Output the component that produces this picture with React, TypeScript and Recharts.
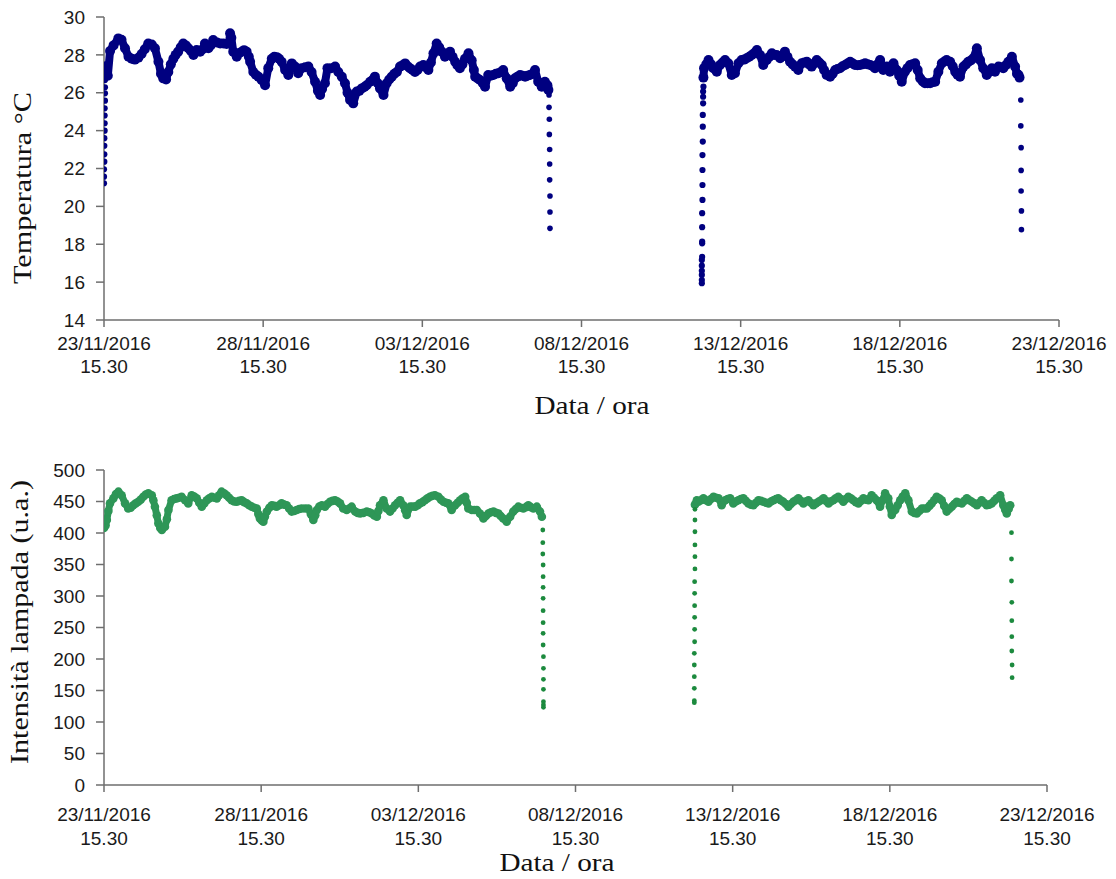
import React from "react";
import { ScatterChart, Scatter, XAxis, YAxis, Label } from "recharts";

const dateLabels = ["23/11/2016", "28/11/2016", "03/12/2016", "08/12/2016", "13/12/2016", "18/12/2016", "23/12/2016"];
const timeLabel = "15.30";
const xTicks = [0, 5, 10, 15, 20, 25, 30];
const tempTicks = [14, 16, 18, 20, 22, 24, 26, 28, 30];
const lampTicks = [0, 50, 100, 150, 200, 250, 300, 350, 400, 450, 500];

// [giorni dal 23/11 15.30, valore]
const tempRise1: [number, number][] = [
  [0.0, 21.22], [0.0, 21.57], [0.0, 21.96], [0.01, 22.36], [0.01, 22.75], [0.01, 23.2], [0.01, 23.6],
  [0.02, 24.0], [0.02, 24.39], [0.02, 24.8], [0.02, 25.18], [0.03, 25.58], [0.03, 25.97], [0.03, 26.29], [0.03, 26.67],
];
const tempBand1: [number, number][] = [
  [0.03, 26.9], [0.06, 27.4], [0.12, 26.9], [0.19, 28.2], [0.3, 28.5], [0.45, 28.87], [0.55, 28.8], [0.66, 28.35],
  [0.77, 27.9], [0.87, 27.8], [0.97, 27.75], [1.08, 27.85], [1.18, 28.05], [1.28, 28.3], [1.39, 28.6], [1.5, 28.55],
  [1.6, 28.35], [1.71, 27.64], [1.79, 27.0], [1.86, 26.76], [1.95, 26.7], [2.02, 27.1], [2.1, 27.5], [2.18, 27.8],
  [2.25, 28.0], [2.33, 28.17], [2.41, 28.4], [2.49, 28.6], [2.57, 28.5], [2.65, 28.35], [2.73, 28.2], [2.81, 28.0],
  [2.91, 28.26], [3.02, 28.17], [3.1, 28.3], [3.17, 28.6], [3.28, 28.35], [3.35, 28.5], [3.43, 28.78], [3.55, 28.65],
  [3.65, 28.6], [3.75, 28.6], [3.85, 28.58], [3.93, 28.62], [3.96, 29.14], [4.0, 28.9], [4.06, 28.17], [4.17, 27.9],
  [4.25, 28.1], [4.33, 28.17], [4.4, 28.25], [4.48, 28.17], [4.55, 27.9], [4.59, 27.64], [4.69, 27.1], [4.77, 26.95],
  [4.85, 26.85], [4.95, 26.67], [5.06, 26.4], [5.16, 27.3], [5.27, 27.8], [5.35, 27.9], [5.43, 27.88], [5.5, 27.8],
  [5.58, 27.64], [5.69, 27.2], [5.79, 26.94], [5.9, 27.55], [6.0, 27.38], [6.1, 27.03], [6.21, 27.3], [6.32, 27.35],
  [6.42, 27.38], [6.52, 27.1], [6.63, 26.58], [6.72, 26.1], [6.79, 25.88], [6.85, 26.2], [6.94, 26.5], [7.02, 27.3],
  [7.14, 27.3], [7.26, 27.38], [7.36, 27.1], [7.47, 26.85], [7.57, 26.5], [7.65, 26.0], [7.73, 25.62], [7.83, 25.44],
  [7.94, 26.06], [8.02, 26.1], [8.1, 26.23], [8.18, 26.3], [8.25, 26.4], [8.36, 26.58], [8.45, 26.7], [8.51, 26.85],
  [8.6, 26.5], [8.67, 26.23], [8.78, 25.88], [8.88, 26.5], [8.96, 26.7], [9.04, 26.85], [9.12, 27.0], [9.2, 27.1],
  [9.3, 27.38], [9.38, 27.45], [9.46, 27.55], [9.54, 27.4], [9.61, 27.3], [9.69, 27.2], [9.77, 27.1], [9.85, 27.2],
  [9.93, 27.38], [10.03, 27.47], [10.11, 27.35], [10.19, 27.2], [10.27, 27.6], [10.35, 28.08], [10.45, 28.6], [10.53, 28.4],
  [10.61, 28.17], [10.71, 27.9], [10.79, 28.0], [10.87, 28.17], [10.95, 27.9], [11.03, 27.64], [11.1, 27.45], [11.18, 27.3],
  [11.26, 27.5], [11.34, 27.8], [11.45, 28.08], [11.55, 27.72], [11.62, 27.2], [11.66, 26.85], [11.74, 26.75], [11.81, 26.67],
  [11.9, 26.5], [11.97, 26.32], [12.07, 26.94], [12.15, 26.9], [12.23, 26.94], [12.31, 27.0], [12.39, 27.03], [12.47, 27.1],
  [12.54, 27.2], [12.65, 26.76], [12.76, 26.32], [12.84, 26.5], [12.91, 26.76], [12.99, 26.85], [13.07, 26.94], [13.15, 26.9],
  [13.23, 26.85], [13.3, 26.9], [13.38, 26.94], [13.46, 27.0], [13.54, 27.2], [13.64, 26.58], [13.75, 26.32], [13.85, 26.58],
  [13.93, 26.4], [13.96, 26.15],
];
const tempDrop1: [number, number][] = [
  [13.98, 25.88], [13.98, 25.23], [13.99, 24.6], [13.99, 23.8], [14.0, 23.0], [14.0, 22.24], [14.0, 21.4],
  [14.01, 20.55], [14.01, 19.7], [14.01, 18.84],
];
const tempRise2: [number, number][] = [
  [18.78, 15.94], [18.78, 16.11], [18.78, 16.38], [18.78, 16.6], [18.78, 16.87], [18.78, 17.17], [18.79, 17.34],
  [18.79, 18.05], [18.79, 18.14], [18.79, 18.9], [18.79, 19.64], [18.8, 20.34], [18.8, 21.13], [18.8, 21.92],
  [18.8, 22.71], [18.81, 23.42], [18.81, 24.21], [18.81, 24.83], [18.82, 25.44], [18.82, 25.79], [18.82, 26.06], [18.83, 26.32],
];
const tempBand2: [number, number][] = [
  [18.83, 26.8], [18.85, 27.3], [18.92, 27.5], [18.99, 27.73], [19.07, 27.5], [19.14, 27.29], [19.25, 27.11], [19.35, 27.47],
  [19.43, 27.6], [19.51, 27.73], [19.61, 27.56], [19.72, 26.94], [19.82, 27.03], [19.93, 27.56], [20.03, 27.73], [20.11, 27.75],
  [20.19, 27.82], [20.27, 27.9], [20.35, 27.99], [20.43, 28.1], [20.51, 28.26], [20.61, 27.99], [20.71, 27.47], [20.82, 27.73],
  [20.9, 27.9], [20.98, 28.08], [21.05, 28.0], [21.13, 27.99], [21.24, 27.82], [21.32, 28.0], [21.39, 28.17], [21.47, 27.9],
  [21.55, 27.64], [21.63, 27.5], [21.71, 27.38], [21.81, 27.2], [21.92, 27.56], [22.0, 27.6], [22.08, 27.64], [22.15, 27.5],
  [22.23, 27.38], [22.31, 27.55], [22.39, 27.73], [22.47, 27.6], [22.55, 27.47], [22.62, 27.2], [22.7, 26.94], [22.81, 26.85],
  [22.89, 27.0], [22.97, 27.2], [23.04, 27.25], [23.12, 27.29], [23.2, 27.4], [23.28, 27.47], [23.36, 27.55], [23.44, 27.64],
  [23.52, 27.55], [23.59, 27.47], [23.67, 27.45], [23.75, 27.47], [23.83, 27.5], [23.91, 27.56], [23.99, 27.5], [24.07, 27.47],
  [24.15, 27.4], [24.22, 27.29], [24.3, 27.5], [24.38, 27.73], [24.48, 27.2], [24.59, 27.38], [24.69, 27.11], [24.8, 27.56],
  [24.9, 27.2], [24.98, 26.9], [25.06, 26.58], [25.16, 27.11], [25.24, 27.3], [25.32, 27.47], [25.4, 27.5], [25.48, 27.56],
  [25.56, 27.2], [25.64, 26.76], [25.72, 26.6], [25.79, 26.5], [25.87, 26.5], [25.95, 26.5], [26.03, 26.55], [26.11, 26.58],
  [26.21, 27.11], [26.32, 27.56], [26.4, 27.65], [26.47, 27.73], [26.58, 27.64], [26.66, 27.4], [26.74, 27.11], [26.81, 26.95],
  [26.89, 26.85], [27.0, 27.38], [27.08, 27.5], [27.15, 27.64], [27.23, 27.7], [27.31, 27.82], [27.42, 28.35], [27.52, 27.73],
  [27.62, 27.29], [27.73, 26.94], [27.81, 27.1], [27.89, 27.29], [27.99, 27.11], [28.1, 27.38], [28.18, 27.35], [28.25, 27.29],
  [28.33, 27.45], [28.41, 27.64], [28.52, 27.9], [28.62, 27.38], [28.68, 27.0], [28.73, 26.94], [28.76, 26.8],
];
const tempDrop2: [number, number][] = [
  [28.8, 25.62], [28.8, 24.25], [28.81, 23.1], [28.81, 21.9], [28.81, 20.81], [28.82, 19.76], [28.82, 18.77],
];

const lampBand1: [number, number][] = [
  [0.0, 408], [0.05, 412], [0.09, 420.6], [0.14, 435], [0.19, 447], [0.3, 455], [0.38, 462], [0.46, 465.6], [0.56, 460],
  [0.67, 447], [0.77, 439], [0.85, 440], [0.93, 444], [1.01, 447], [1.09, 449.7], [1.17, 453], [1.25, 457.6], [1.33, 461],
  [1.41, 463], [1.52, 460], [1.57, 452], [1.62, 441.8], [1.68, 428], [1.73, 415], [1.79, 408], [1.84, 404.8], [1.94, 410],
  [2.0, 422], [2.05, 436.5], [2.15, 452], [2.23, 454], [2.31, 455], [2.39, 456], [2.47, 457.6], [2.58, 452], [2.68, 447],
  [2.79, 460], [2.87, 458], [2.95, 455], [3.03, 448], [3.11, 441.8], [3.19, 447], [3.27, 452], [3.35, 455], [3.43, 457.6],
  [3.51, 456], [3.59, 455], [3.66, 460], [3.74, 465.6], [3.82, 463], [3.9, 460], [3.98, 456], [4.06, 452], [4.14, 450],
  [4.22, 449.7], [4.3, 451], [4.38, 452], [4.46, 449], [4.54, 447], [4.62, 444], [4.7, 441.8], [4.78, 440], [4.86, 439],
  [4.91, 430], [4.96, 423], [5.02, 420], [5.07, 418], [5.12, 426], [5.18, 434], [5.26, 440], [5.34, 444], [5.42, 443],
  [5.49, 441.8], [5.57, 444], [5.65, 447], [5.73, 445], [5.81, 444], [5.89, 439], [5.97, 434], [6.05, 435], [6.13, 436.5],
  [6.21, 438], [6.29, 439], [6.4, 439], [6.5, 439], [6.58, 430], [6.66, 420.6], [6.72, 428], [6.77, 436.5], [6.85, 442],
  [6.93, 444], [7.03, 441.8], [7.11, 446], [7.19, 449.7], [7.27, 451], [7.35, 452], [7.43, 450], [7.51, 447], [7.61, 439],
  [7.72, 436.5], [7.8, 439], [7.88, 441.8], [7.99, 434], [8.07, 432], [8.15, 431.2], [8.25, 432], [8.36, 434], [8.44, 433],
  [8.52, 431], [8.6, 428], [8.68, 425.9], [8.73, 435], [8.78, 444], [8.89, 452], [8.99, 439], [9.1, 434], [9.18, 439],
  [9.26, 444], [9.34, 448], [9.42, 452], [9.52, 444], [9.58, 436], [9.63, 428.6], [9.74, 441.8], [9.82, 442], [9.9, 441.8],
  [9.98, 444], [10.05, 447], [10.13, 449], [10.21, 452], [10.29, 455], [10.37, 457.6], [10.45, 459], [10.53, 460],
  [10.64, 457.6], [10.72, 453], [10.8, 449.7], [10.88, 448], [10.95, 447], [11.06, 436.5], [11.17, 444], [11.25, 448],
  [11.33, 452], [11.41, 455], [11.49, 457.6], [11.54, 448], [11.59, 439], [11.7, 436.5], [11.78, 436.5], [11.86, 436.5],
  [11.96, 431], [12.07, 423], [12.15, 427], [12.23, 431], [12.31, 433], [12.39, 434], [12.47, 432], [12.55, 431], [12.62, 427],
  [12.7, 423], [12.81, 418], [12.92, 425.9], [13.02, 434], [13.1, 438], [13.18, 441.8], [13.26, 440], [13.34, 439], [13.42, 441],
  [13.5, 444], [13.58, 441], [13.66, 439], [13.77, 441.8], [13.87, 434], [13.93, 425.9],
];
const lampDrop1: [number, number][] = [
  [13.96, 404.8], [13.96, 384.6], [13.96, 366.7], [13.97, 349.2], [13.97, 330.7], [13.97, 313.8], [13.97, 296.3],
  [13.97, 276.7], [13.97, 257.6], [13.97, 240.7], [13.97, 222.2], [13.98, 203.7], [13.98, 185.2], [13.98, 167.7],
  [13.98, 151.8], [13.98, 132.2], [13.98, 127], [13.98, 123.3],
];
const lampRise2: [number, number][] = [
  [18.78, 130.7], [18.78, 133.9], [18.78, 153.4], [18.78, 171.9], [18.78, 190.5], [18.78, 209], [18.79, 227.4],
  [18.79, 247.1], [18.79, 266.1], [18.79, 284.6], [18.79, 304.2], [18.79, 322.7], [18.8, 342.9], [18.8, 362.4],
  [18.8, 381], [18.8, 402], [18.8, 420.6], [18.8, 437.6],
];
const lampBand2: [number, number][] = [
  [18.8, 445], [18.86, 452], [18.91, 449.7], [18.99, 452], [19.07, 455], [19.15, 452], [19.23, 449.7], [19.31, 454],
  [19.39, 457.6], [19.47, 456], [19.55, 455], [19.65, 444], [19.76, 452], [19.84, 454], [19.92, 455], [20.02, 447],
  [20.1, 450], [20.18, 452], [20.26, 454], [20.34, 455], [20.42, 451], [20.5, 447], [20.58, 445], [20.66, 444], [20.74, 448],
  [20.82, 452], [20.9, 451], [20.98, 449.7], [21.06, 448], [21.14, 447], [21.22, 450], [21.3, 452], [21.38, 454], [21.45, 455],
  [21.53, 452], [21.61, 449.7], [21.69, 446], [21.77, 441.8], [21.85, 446], [21.93, 449.7], [22.01, 452], [22.09, 455],
  [22.17, 451], [22.25, 447], [22.33, 450], [22.41, 452], [22.49, 448], [22.57, 444], [22.65, 447], [22.73, 449.7],
  [22.81, 452], [22.89, 455], [22.97, 451], [23.05, 447], [23.12, 450], [23.2, 452], [23.28, 455], [23.36, 457.6],
  [23.44, 454], [23.52, 449.7], [23.6, 454], [23.68, 457.6], [23.76, 455], [23.84, 452], [23.92, 449], [24.0, 447],
  [24.08, 451], [24.16, 455], [24.24, 453], [24.32, 452], [24.42, 460], [24.5, 456], [24.58, 452], [24.69, 441.8],
  [24.77, 452], [24.85, 463], [24.95, 455], [25.0, 442], [25.06, 428.6], [25.17, 436.5], [25.25, 444], [25.33, 452],
  [25.41, 458], [25.49, 463], [25.59, 452], [25.7, 434], [25.78, 432], [25.86, 431], [25.94, 435], [26.02, 439], [26.1, 439],
  [26.18, 439], [26.26, 443], [26.33, 447], [26.41, 452], [26.49, 457.6], [26.57, 455], [26.65, 452], [26.73, 443],
  [26.81, 434], [26.89, 438], [26.97, 441.8], [27.05, 446], [27.13, 449.7], [27.21, 448], [27.29, 447], [27.37, 451],
  [27.45, 455], [27.53, 452], [27.61, 449.7], [27.69, 447], [27.77, 444], [27.85, 448], [27.92, 452], [28.0, 448],
  [28.08, 444], [28.16, 445], [28.24, 447], [28.32, 451], [28.4, 455], [28.51, 460], [28.61, 444], [28.67, 437],
  [28.72, 431], [28.78, 438], [28.83, 444],
];
const lampDrop2: [number, number][] = [
  [28.87, 400.5], [28.87, 358.7], [28.87, 323.8], [28.88, 290], [28.88, 260.8], [28.88, 235.4], [28.88, 212.7],
  [28.89, 190.5], [28.89, 170.3],
];

const NAVY = "#000080";
const GREEN = "#2e9657";
const DARK_GREEN = "#1c8a3e";
const AXIS = "#6e6e6e";
const SANS = "'Liberation Sans', Arial, sans-serif";
const SERIF = "'Liberation Serif', 'Times New Roman', serif";

const toPts = (arr: [number, number][]) => arr.map(([day, val]) => ({ day, val }));

const dot = (r: number, fill: string) => (p: any) =>
  p.cx == null ? <g /> : <circle cx={p.cx} cy={p.cy} r={r} fill={fill} />;

function DateTick(props: any) {
  const { x, y, payload, gap1, gap2 } = props;
  const i = xTicks.indexOf(payload.value);
  return (
    <g>
      <text x={x} y={y + gap1} textAnchor="middle" fontFamily={SANS} fontSize={19} fill="#1a1a1a">
        {dateLabels[i]}
      </text>
      <text x={x} y={y + gap2} textAnchor="middle" fontFamily={SANS} fontSize={19} fill="#1a1a1a">
        {timeLabel}
      </text>
    </g>
  );
}

const yTitle = (text: string, x: number, y: number, len: number) => () => (
  <text
    x={x}
    y={y}
    transform={`rotate(-90 ${x} ${y})`}
    textAnchor="middle"
    fontFamily={SERIF}
    fontSize={26}
    fill="#111"
    textLength={len}
    lengthAdjust="spacingAndGlyphs"
  >
    {text}
  </text>
);

const xTitle = (x: number, y: number) => () => (
  <text x={x} y={y} textAnchor="middle" fontFamily={SERIF} fontSize={26} fill="#111" textLength={115} lengthAdjust="spacingAndGlyphs">
    Data / ora
  </text>
);

const axisProps = {
  axisLine: { stroke: AXIS, strokeWidth: 1.5 },
  tickLine: { stroke: AXIS, strokeWidth: 1.5 },
};

export default function App() {
  return (
    <div style={{ position: "absolute", left: 0, top: 0, width: 1116, height: 879, background: "#fff" }}>
      <div style={{ position: "absolute", left: 0, top: 0 }}>
        <ScatterChart width={1116} height={430} margin={{ top: 17, right: 57, bottom: 50, left: 0 }}>
          <XAxis
            type="number"
            dataKey="day"
            domain={[0, 30]}
            ticks={xTicks}
            interval={0}
            allowDataOverflow
            height={60}
            tickSize={7}
            tickMargin={0}
            tick={<DateTick gap1={23} gap2={46} />}
            {...axisProps}
          >
            <Label content={xTitle(592, 414)} />
          </XAxis>
          <YAxis
            type="number"
            dataKey="val"
            domain={[14, 30]}
            ticks={tempTicks}
            interval={0}
            allowDataOverflow
            width={104}
            tickSize={8}
            tickMargin={11}
            tick={{ fill: "#1a1a1a", fontSize: 19, fontFamily: SANS }}
            {...axisProps}
          >
            <Label content={yTitle("Temperatura °C", 31, 188, 192)} />
          </YAxis>
          <Scatter data={toPts(tempBand1)} isAnimationActive={false} shape={dot(5, NAVY)}
            line={{ stroke: NAVY, strokeWidth: 8, strokeLinejoin: "round", strokeLinecap: "round" }} />
          <Scatter data={toPts(tempBand2)} isAnimationActive={false} shape={dot(5, NAVY)}
            line={{ stroke: NAVY, strokeWidth: 8, strokeLinejoin: "round", strokeLinecap: "round" }} />
          <Scatter data={toPts(tempRise1)} isAnimationActive={false} shape={dot(3.1, NAVY)} />
          <Scatter data={toPts(tempDrop1)} isAnimationActive={false} shape={dot(2.8, NAVY)} />
          <Scatter data={toPts(tempRise2)} isAnimationActive={false} shape={dot(3.1, NAVY)} />
          <Scatter data={toPts(tempDrop2)} isAnimationActive={false} shape={dot(2.8, NAVY)} />
        </ScatterChart>
      </div>
      <div style={{ position: "absolute", left: 0, top: 440 }}>
        <ScatterChart width={1116} height={439} margin={{ top: 30, right: 69, bottom: 34, left: 0 }}>
          <XAxis
            type="number"
            dataKey="day"
            domain={[0, 30]}
            ticks={xTicks}
            interval={0}
            allowDataOverflow
            height={60}
            tickSize={7}
            tickMargin={0}
            tick={<DateTick gap1={29} gap2={53} />}
            {...axisProps}
          >
            <Label content={xTitle(557, 431)} />
          </XAxis>
          <YAxis
            type="number"
            dataKey="val"
            domain={[0, 500]}
            ticks={lampTicks}
            interval={0}
            allowDataOverflow
            width={104}
            tickSize={8}
            tickMargin={11}
            tick={{ fill: "#1a1a1a", fontSize: 19, fontFamily: SANS }}
            {...axisProps}
          >
            <Label content={yTitle("Intensità lampada (u.a.)", 28, 182, 284)} />
          </YAxis>
          <Scatter data={toPts(lampBand1)} isAnimationActive={false} shape={dot(4.3, GREEN)}
            line={{ stroke: GREEN, strokeWidth: 7, strokeLinejoin: "round", strokeLinecap: "round" }} />
          <Scatter data={toPts(lampBand2)} isAnimationActive={false} shape={dot(4.3, GREEN)}
            line={{ stroke: GREEN, strokeWidth: 7, strokeLinejoin: "round", strokeLinecap: "round" }} />
          <Scatter data={toPts(lampDrop1)} isAnimationActive={false} shape={dot(2.4, DARK_GREEN)} />
          <Scatter data={toPts(lampRise2)} isAnimationActive={false} shape={dot(2.4, DARK_GREEN)} />
          <Scatter data={toPts(lampDrop2)} isAnimationActive={false} shape={dot(2.4, DARK_GREEN)} />
        </ScatterChart>
      </div>
    </div>
  );
}
